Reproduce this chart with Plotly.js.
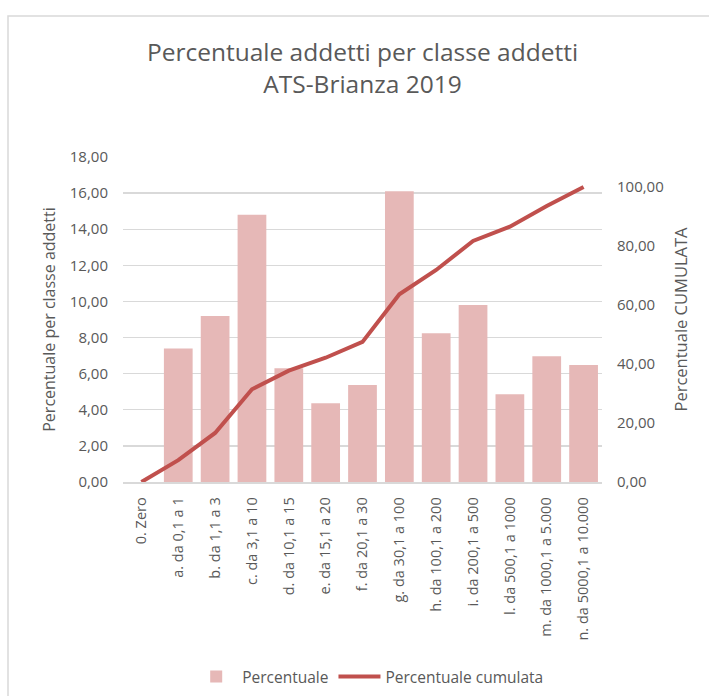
<!DOCTYPE html>
<html>
<head>
<meta charset="utf-8">
<script src="https://cdn.plot.ly/plotly-3.0.1.min.js"></script>
<style>html,body{margin:0;padding:0;background:#fff;}#chart{width:709px;height:696px;}</style>
</head>
<body>
<div id="chart"></div>
<script>
const categories = ["0. Zero","a. da 0,1 a 1","b. da 1,1 a 3","c. da 3,1 a 10","d. da 10,1 a 15","e. da 15,1 a 20","f. da 20,1 a 30","g. da 30,1 a 100","h. da 100,1 a 200","i. da 200,1 a 500","l. da 500,1 a 1000","m. da 1000,1 a 5.000","n. da 5000,1 a 10.000"];
const percentuale = [0, 7.40, 9.20, 14.80, 6.30, 4.36, 5.37, 16.10, 8.24, 9.80, 4.86, 6.97, 6.48];
const cumulata = [0, 7.40, 16.60, 31.40, 37.70, 42.06, 47.43, 63.53, 71.77, 81.57, 86.43, 93.40, 99.88];
const seriesNames = ["Percentuale", "Percentuale cumulata"];
const chartTitle = "Percentuale addetti per classe addetti<br>ATS-Brianza 2019";
const yTitle = "Percentuale per classe addetti";
const y2Title = "Percentuale CUMULATA";

const textColor = "#595959";
const font = "Open Sans, Noto Sans, sans-serif";

const data = [
  {type: "bar", x: categories, y: percentuale, name: seriesNames[0],
   marker: {color: "#E6B8B7"}, yaxis: "y"},
  {type: "scatter", mode: "lines", x: categories, y: cumulata, name: seriesNames[1],
   line: {color: "#C0504D", width: 4}, yaxis: "y2"}
];

const layout = {
  width: 709, height: 696,
  margin: {l: 123, r: 107, t: 157, b: 214, autoexpand: false},
  paper_bgcolor: "#fff", plot_bgcolor: "#fff",
  separators: ",.",
  font: {family: font, color: textColor, size: 14},
  bargap: 0.22,
  title: {text: chartTitle, font: {size: 24.5, color: textColor, family: font},
          x: 0.5, xref: "paper", y: 1 - 61/696, yref: "container", yanchor: "middle",
          automargin: false},
  xaxis: {type: "category", tickangle: -90, showgrid: false, automargin: false,
          showline: true, linecolor: "#D9D9D9", linewidth: 1.5,
          ticks: "", tickfont: {size: 14.5, color: textColor},
          ticklabelstandoff: 8, fixedrange: true},
  yaxis: {range: [0, 18], dtick: 2, tickformat: ".2f", automargin: false,
          showgrid: true, gridcolor: "#D9D9D9", gridwidth: 1.3, zeroline: false,
          ticks: "", tickfont: {size: 15, color: textColor}, ticklabelstandoff: 14,
          title: {text: yTitle, font: {size: 16, color: textColor}, standoff: 10}},
  yaxis2: {range: [0, 110], dtick: 20, tickformat: ".2f", overlaying: "y", side: "right",
           showgrid: false, zeroline: false, ticks: "", automargin: false,
           tickfont: {size: 15, color: textColor}, ticklabelstandoff: 14,
           title: {text: y2Title, font: {size: 16.5, color: textColor}, standoff: 12}},
  legend: {orientation: "h", x: 0.514, xanchor: "center", y: (482-677)/325, yanchor: "middle",
           itemwidth: 42, font: {size: 15.5, color: textColor}, traceorder: "normal"},
  shapes: [{type: "rect", xref: "paper", yref: "paper",
            x0: (8-123)/479, x1: 1.5, y0: -1.0, y1: (482-16)/325,
            line: {color: "#D9D9D9", width: 1.5}, fillcolor: "rgba(0,0,0,0)", layer: "below"}]
};

Plotly.newPlot("chart", data, layout, {displayModeBar: false, staticPlot: true});
</script>
</body>
</html>
